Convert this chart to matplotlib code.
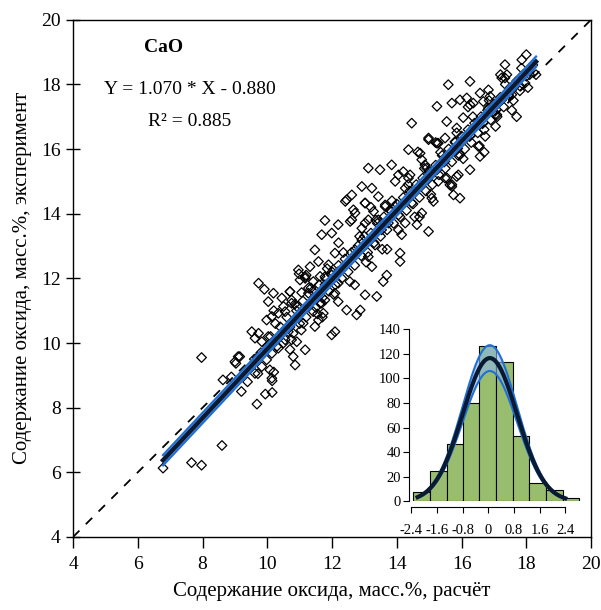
"""Расчёт vs эксперимент для CaO: диаграмма рассеяния и гистограмма остатков."""
import matplotlib
import matplotlib.pyplot as plt
import numpy as np

matplotlib.use("Agg")

plt.rcParams["font.family"] = ["Liberation Serif", "DejaVu Serif"]

# --- данные ---
calc_x = [
    6.78, 7.66, 7.97, 7.97, 8.60, 8.63, 8.89, 9.03, 9.15, 9.20, 9.39, 9.68, 9.71, 9.94, 10.15, 10.15, 10.20,
    9.73, 9.91, 10.19, 10.03, 10.45, 10.70, 11.06, 10.98, 11.17, 11.42, 11.63, 11.78, 11.99, 10.75, 10.91,
    10.55, 10.34, 9.98, 10.14, 9.52, 9.73, 9.62, 9.83, 10.03, 10.65, 10.75, 10.91, 11.17, 10.80, 10.86,
    10.34, 10.14, 9.98, 9.10, 9.00, 9.62, 10.08, 10.14, 9.83, 11.11, 11.47, 11.58, 11.73, 11.42, 12.09,
    11.99, 11.63, 11.78, 12.09, 12.19, 11.27, 10.50,
    11.78, 11.68, 11.99, 12.19, 12.56, 12.71, 13.02, 13.28, 13.64, 13.95, 12.41, 14.10, 14.10, 13.69,
    13.58, 13.38, 13.02, 12.87, 12.76, 12.45, 12.19, 11.58, 11.32, 10.96, 11.01, 11.17, 10.70, 10.75,
    11.27, 11.68, 13.23, 13.12, 13.33, 12.92, 12.71, 12.09, 11.89, 12.19, 11.78, 11.47, 13.12, 12.92,
    13.53, 13.74, 14.05,
    14.36, 14.65, 14.98, 15.24, 15.49, 13.84, 13.48, 13.12, 12.92, 13.23, 12.61, 12.45, 13.02, 13.43,
    13.64, 13.95, 14.05, 14.26, 14.36, 14.77, 14.92, 15.24, 15.49, 15.85, 15.70, 15.95, 15.75, 15.08,
    14.77, 14.62, 14.98, 14.26, 14.15, 13.84, 13.43, 13.02, 12.61, 12.66, 15.95, 15.80, 15.13, 14.46,
    15.59, 16.26, 17.34, 16.83, 16.88, 16.57, 16.26, 15.95, 15.70, 15.24, 14.46, 15.54, 16.05, 15.85,
    14.98, 15.28, 14.72, 16.73, 17.03, 17.55, 17.75, 16.57, 16.52, 16.26, 15.90, 15.64, 15.28, 14.87,
    14.41, 15.80, 15.44, 16.00, 16.83, 17.14,
    18.00, 17.86, 17.34, 17.40, 17.24, 16.16, 16.36, 16.67, 17.09, 18.00, 18.10, 17.96, 17.81, 17.55,
    17.45, 17.24, 16.98,
    9.6, 9.8, 10.0, 10.1, 10.3, 10.4, 10.5, 10.6, 10.7, 10.8, 10.9, 11.0, 11.1, 11.2, 11.3, 11.4, 11.5,
    11.6, 11.7, 11.8, 11.9, 12.0, 12.1, 12.2, 12.3, 12.4, 12.5, 12.6, 12.7, 12.8, 12.9, 13.0, 13.1, 13.2,
    13.3, 13.4, 13.5, 13.6, 13.7, 13.8, 13.9, 14.0, 14.1, 14.2, 14.3, 14.4, 14.5, 14.6, 14.7, 14.8, 14.9,
    15.0, 15.1, 15.2, 15.3, 15.4, 15.5, 15.6, 15.7, 15.8, 15.9, 16.0, 16.1, 16.2, 16.3, 16.4, 16.5, 16.6,
    16.7, 16.8, 16.9, 17.0, 17.1, 17.2, 17.3, 17.5, 17.6, 17.7, 17.8, 17.9, 18.1, 18.2, 18.3,
    10.25, 10.55, 10.85, 11.05, 11.35, 11.55, 11.85, 12.05, 12.35, 12.55, 12.85, 13.05, 13.35, 13.55,
    13.85, 14.05, 14.35, 14.55, 14.85, 15.05, 15.35, 15.55, 15.85, 16.05, 16.35, 16.55, 16.85, 17.05,
    17.35, 17.55, 17.85, 18.05,
    10.2, 10.7, 11.2, 11.7, 12.2, 12.7, 13.2, 13.7, 14.2, 14.7, 15.2, 15.7, 16.2, 16.7, 17.2, 17.7,
]
exp_y = [
    6.13, 6.30, 6.22, 9.55, 6.83, 8.86, 8.95, 9.37, 9.58, 8.50, 8.80, 8.11, 9.05, 8.42, 8.47, 8.83, 9.10,
    11.85, 11.66, 11.54, 11.28, 11.39, 11.59, 11.56, 12.14, 12.00, 11.90, 12.06, 11.80, 12.10, 11.23, 11.13,
    10.97, 10.92, 10.71, 10.82, 10.35, 10.30, 10.15, 10.04, 10.20, 10.35, 10.10, 10.04, 9.79, 9.58, 9.32,
    9.84, 9.68, 9.48, 9.58, 9.42, 9.06, 9.17, 8.91, 9.27, 10.61, 10.51, 10.71, 10.92, 10.97, 10.35,
    10.25, 11.23, 11.33, 11.54, 11.85, 11.70, 11.13,
    13.79, 13.35, 13.40, 13.66, 13.76, 14.02, 14.33, 14.07, 14.27, 14.22, 14.38, 12.78, 12.52, 12.10,
    11.90, 11.44, 11.49, 11.02, 10.87, 11.02, 11.28, 12.52, 12.36, 12.26, 11.95, 12.05, 11.59, 11.33,
    11.54, 11.23, 12.36, 12.67, 13.03, 13.19, 12.88, 12.78, 12.42, 12.21, 12.05, 12.88, 13.81, 13.55,
    13.50, 13.71, 13.96,
    15.98, 15.91, 16.29, 16.18, 16.34, 15.51, 15.36, 15.41, 14.84, 14.79, 14.58, 14.43, 14.33, 14.53,
    14.22, 15.00, 15.20, 14.79, 15.10, 15.67, 15.41, 15.36, 15.10, 15.15, 14.84, 14.48, 14.58, 14.48,
    14.02, 13.66, 13.45, 13.71, 13.35, 14.07, 13.81, 13.71, 13.81, 14.12, 15.82, 16.23, 14.38, 14.33,
    17.99, 18.09, 18.20, 17.83, 17.63, 17.73, 17.37, 17.52, 17.42, 17.32, 16.80, 16.85, 16.97, 16.65,
    16.34, 16.18, 15.87, 16.39, 17.06, 17.68, 18.14, 15.77, 16.08, 15.36, 15.20, 14.89, 15.00, 15.51,
    15.20, 15.93, 15.62, 16.23, 17.27, 17.42,
    18.92, 18.76, 18.61, 18.30, 18.20, 17.58, 17.42, 17.47, 17.06, 18.25, 18.30, 18.04, 17.94, 17.83,
    17.68, 17.52, 17.27,
    9.5, 9.7, 9.9, 10.2, 9.9, 10.5, 10.0, 10.8, 10.5, 10.3, 11.0, 10.6, 11.3, 10.8, 11.2, 11.6, 11.1,
    11.8, 11.4, 12.0, 11.6, 12.2, 11.8, 12.4, 12.0, 12.6, 12.2, 12.8, 12.4, 13.0, 12.7, 13.3, 12.8, 13.4,
    13.1, 13.7, 13.3, 13.9, 13.5, 14.1, 13.7, 14.3, 13.9, 14.5, 14.1, 14.7, 14.3, 14.9, 14.5, 15.1, 14.7,
    15.3, 14.9, 15.5, 15.2, 15.8, 15.4, 16.0, 15.6, 16.2, 15.8, 16.4, 16.0, 16.6, 16.2, 16.8, 16.5, 17.0,
    16.6, 17.2, 16.9, 17.4, 17.0, 17.6, 17.3, 17.9, 17.5, 18.1, 17.8, 18.3, 18.4, 18.6, 18.3,
    10.6, 10.1, 11.2, 10.4, 11.7, 10.9, 12.3, 11.5, 12.8, 11.9, 13.3, 12.5, 13.8, 12.9,
    14.4, 13.5, 14.9, 13.9, 15.4, 14.6, 15.9, 15.1, 16.5, 15.7, 17.0, 16.1, 17.5, 16.7,
    18.0, 17.2, 18.5, 17.9,
    11.0, 9.8, 12.1, 10.8, 13.1, 11.8, 14.2, 12.9, 15.3, 13.9, 16.2, 14.9, 17.3, 15.9, 18.3, 17.0,
]

# регрессия, подписанная на графике
slope, intercept, r2 = 1.070, -0.880, 0.885
ci_half = 0.16  # полуширина доверительной полосы (по рисунку)

# гистограмма остатков
hist_edges = [-2.34, -1.82, -1.30, -0.80, -0.28, 0.24, 0.76, 1.28, 1.80, 2.32, 2.84]
hist_counts = [8, 25, 47, 80, 126, 113, 53, 15, 9, 3]
resid_mean, resid_sd = 0.05, 0.85
curve_range = (-2.2, 2.4)
curve_band = 0.09  # относительная ширина полосы вокруг кривой

BLUE = "#1f6fd6"
LIGHT_BLUE = "#8bb8ea"
NAVY = "#0b1a33"
GREEN = "#98bd6e"

fig = plt.figure(figsize=(6.01, 6.10), dpi=100)
ax = fig.add_axes([0.1215, 0.1197, 0.862, 0.848])

ax.plot([4, 20], [4, 20], color="black", linestyle=(0, (5, 5)), linewidth=1.3, zorder=1)
ax.scatter(calc_x, exp_y, marker="D", s=24, facecolors="none", edgecolors="black",
           linewidths=0.9, zorder=2)

xs = np.linspace(min(calc_x), max(calc_x), 50)
ys = slope * xs + intercept
ax.fill_between(xs, ys - ci_half, ys + ci_half, color=LIGHT_BLUE, alpha=0.8, zorder=3, linewidth=0)
ax.plot(xs, ys + ci_half, color=BLUE, linewidth=1.6, zorder=4)
ax.plot(xs, ys - ci_half, color=BLUE, linewidth=1.6, zorder=4)
ax.plot(xs, ys, color=NAVY, linewidth=3.2, zorder=5)

ax.set_xlim(4, 20)
ax.set_ylim(4, 20)
ax.set_xticks(range(4, 21, 2))
ax.set_yticks(range(4, 21, 2))
ax.tick_params(axis="x", direction="out", length=8, width=1, labelsize=14, pad=6)
ax.tick_params(axis="y", direction="inout", length=10, width=1, labelsize=14, pad=4)
for sp in ax.spines.values():
    sp.set_linewidth(1.0)

ax.set_xlabel("Содержание оксида, масс.%, расчёт", fontsize=15, labelpad=6)
ax.set_ylabel("Содержание оксида, масс.%, эксперимент", fontsize=15, labelpad=6)

ax.text(6.81, 19.13, "CaO", fontsize=14, fontweight="bold", ha="center", va="center")
ax.text(7.61, 17.83, f"Y = {slope:.3f} * X - {abs(intercept):.3f}", fontsize=14,
        ha="center", va="center")
ax.text(7.61, 16.84, f"R\u00b2 = {r2:.3f}", fontsize=14, ha="center", va="center")

# --- вставка: гистограмма остатков ---
axi = fig.add_axes([0.681, 0.178, 0.2862, 0.2825], facecolor="none")
widths = np.diff(hist_edges)
axi.bar(hist_edges[:-1], hist_counts, width=widths, align="edge", color=GREEN,
        edgecolor="black", linewidth=0.8, zorder=1)

cx = np.linspace(curve_range[0], curve_range[1], 200)
bin_w = np.mean(widths)
pdf = sum(hist_counts) * bin_w / (resid_sd * np.sqrt(2 * np.pi)) * \
    np.exp(-0.5 * ((cx - resid_mean) / resid_sd) ** 2)
axi.fill_between(cx, pdf * (1 - curve_band), pdf * (1 + curve_band), color=LIGHT_BLUE,
                 alpha=0.6, linewidth=0, zorder=2)
axi.plot(cx, pdf * (1 + curve_band), color=BLUE, linewidth=1.5, zorder=3)
axi.plot(cx, pdf * (1 - curve_band), color=BLUE, linewidth=1.5, zorder=3)
axi.plot(cx, pdf, color=NAVY, linewidth=3, zorder=4)

axi.set_xlim(-2.46, 2.9)
axi.set_ylim(0, 140)
axi.set_xticks([-2.4, -1.6, -0.8, 0, 0.8, 1.6, 2.4])
axi.set_xticklabels(["-2.4", "-1.6", "-0.8", "0", "0.8", "1.6", "2.4"])
axi.set_yticks(range(0, 141, 20))
axi.spines["top"].set_visible(False)
axi.spines["right"].set_visible(False)
axi.spines["bottom"].set_position(("outward", 4))
axi.spines["bottom"].set_bounds(-2.4, 2.4)
axi.tick_params(axis="both", direction="out", length=4, width=0.8, labelsize=10.5, pad=2)
axi.tick_params(axis="x", pad=8)

fig.savefig("out.png", dpi=100)
